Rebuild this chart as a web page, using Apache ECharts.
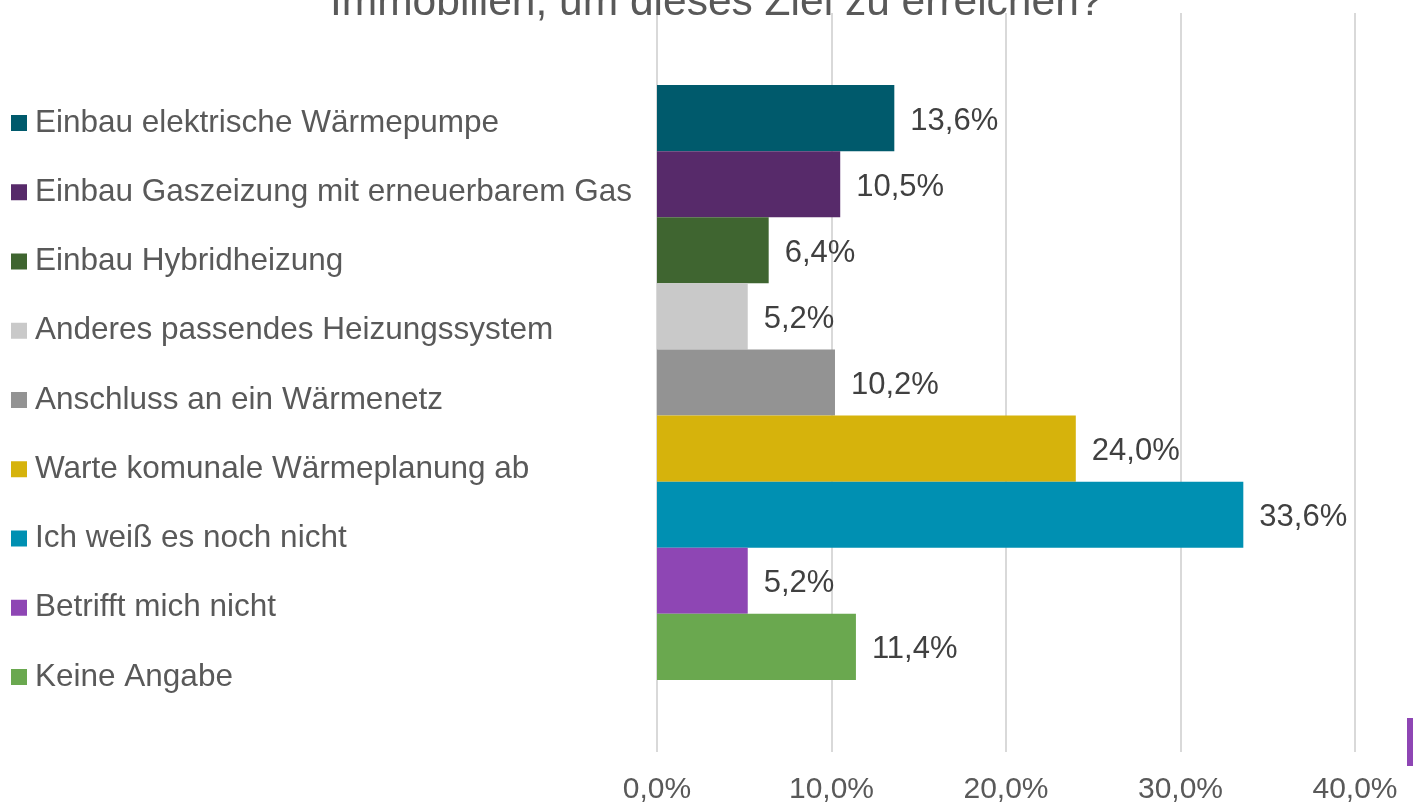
<!DOCTYPE html>
<html><head><meta charset="utf-8">
<script src="https://cdn.jsdelivr.net/npm/echarts@6/dist/echarts.min.js"></script>
<style>html,body{margin:0;padding:0;background:#fff}#c{width:1413px;height:805px}</style>
</head><body><div id="c"></div>
<script>
const titleText = "Immobilien, um dieses Ziel zu erreichen?";
const seriesNames = [
  "Einbau elektrische Wärmepumpe",
  "Einbau Gaszeizung mit erneuerbarem Gas",
  "Einbau Hybridheizung",
  "Anderes passendes Heizungssystem",
  "Anschluss an ein Wärmenetz",
  "Warte komunale Wärmeplanung ab",
  "Ich weiß es noch nicht",
  "Betrifft mich nicht",
  "Keine Angabe"
];
const values = [13.6, 10.5, 6.4, 5.2, 10.2, 24.0, 33.6, 5.2, 11.4];
const colors = ["#005A6C", "#572A6A", "#3F6530", "#C9C9C9", "#939393", "#D6B30C", "#0090B2", "#8E46B4", "#6AA84F"];
const xTicks = [0, 10, 20, 30, 40];
const category = [""];

const fmt = v => v.toFixed(1).replace('.', ',') + '%';
const FONT = '"Liberation Sans", Arial, sans-serif';

const chart = echarts.init(document.getElementById('c'));
chart.setOption({
  animation: false,
  backgroundColor: '#fff',
  color: colors,
  title: {
    text: titleText, left: 325, top: -23,
    textStyle: { fontFamily: FONT, fontSize: 42.5, fontWeight: 'normal', color: '#595959' }
  },
  legend: {
    orient: 'vertical', left: 6, top: 102,
    itemWidth: 16, itemHeight: 16, itemGap: 37.25,
    icon: 'rect',
    textStyle: { fontFamily: FONT, fontSize: 31.5, color: '#595959', lineHeight: 32, padding: [0, 0, 0, 3] },
    data: seriesNames
  },
  grid: { left: 657, right: 58, top: 13, bottom: 52, containLabel: false },
  xAxis: {
    type: 'value', min: xTicks[0], max: xTicks[xTicks.length - 1], interval: 10,
    axisLine: { show: false }, axisTick: { show: false },
    splitLine: { lineStyle: { color: '#D9D9D9', width: 2 } },
    axisLabel: { formatter: v => fmt(v), fontFamily: FONT, fontSize: 30, color: '#595959', margin: 23 }
  },
  yAxis: {
    type: 'category', data: category, inverse: true,
    axisLine: { show: false }, axisTick: { show: false }, axisLabel: { show: false }
  },
  series: seriesNames.map((n, i) => ({
    name: n, type: 'bar', data: [values[i]],
    barGap: '0%', barCategoryGap: '19.5%',
    itemStyle: { color: colors[i] },
    label: { show: true, position: 'right', distance: 16, offset: [0, 3], formatter: p => fmt(p.value),
      fontFamily: FONT, fontSize: 31, color: '#404040' }
  })),
  graphic: [{ type: 'rect', right: 0, top: 718, shape: { width: 6, height: 48 }, style: { fill: '#8E46B4' } }]
});
</script></body></html>
